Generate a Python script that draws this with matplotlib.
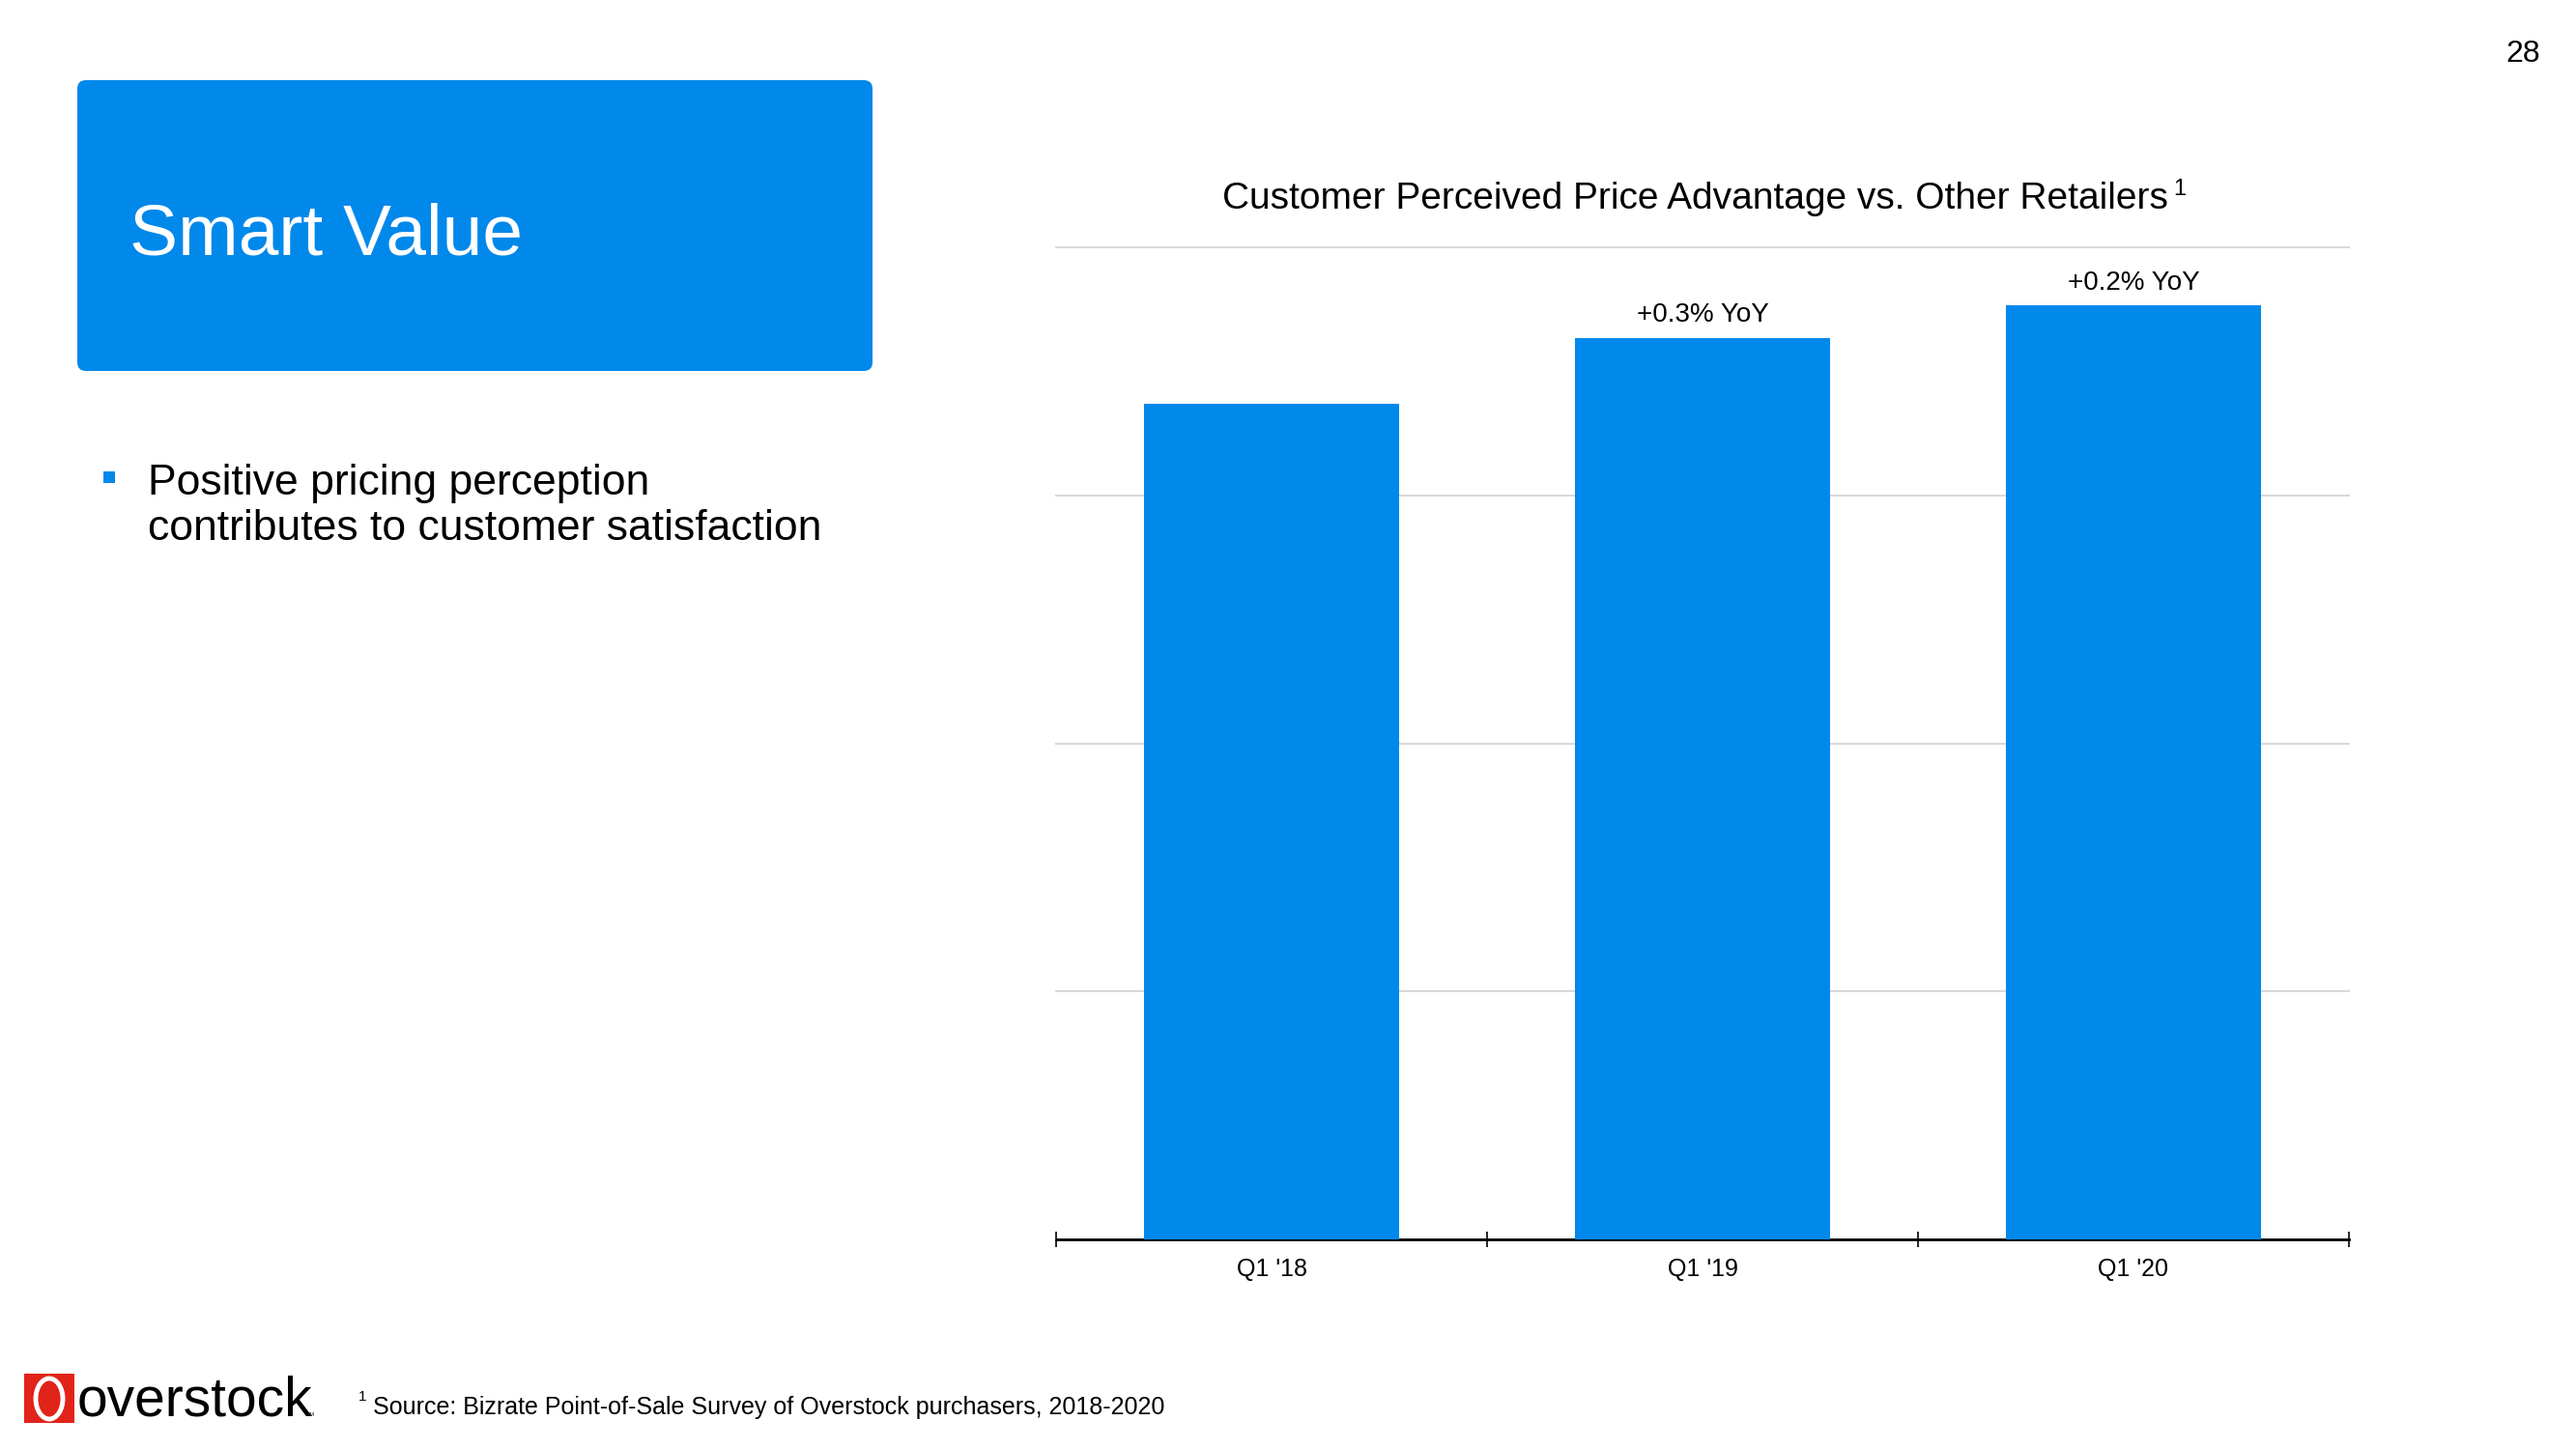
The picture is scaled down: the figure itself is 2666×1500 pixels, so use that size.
import matplotlib
matplotlib.use('Agg')
import matplotlib.pyplot as plt
from matplotlib.patches import FancyBboxPatch, Rectangle, Ellipse

# chart data (arbitrary units, axis has no labels)
categories = ["Q1 '18", "Q1 '19", "Q1 '20"]
advantage = [67.4, 72.7, 75.3]
yoy_labels = ["", "+0.3% YoY", "+0.2% YoY"]
grid_ticks = [0, 20, 40, 60, 80]

BLUE = '#0088EB'
RED = '#E2231A'
W, H = 2666, 1500

plt.rcParams['font.family'] = ['Liberation Sans', 'DejaVu Sans']

fig = plt.figure(figsize=(W / 100, H / 100), dpi=100)

# background axes in pixel units (y downwards) for the slide decorations
bg = fig.add_axes([0, 0, 1, 1])
bg.set_xlim(0, W)
bg.set_ylim(H, 0)
bg.axis('off')

# section header box
bg.add_patch(FancyBboxPatch((80, 83), 823, 301,
                            boxstyle='round,pad=0,rounding_size=9',
                            facecolor=BLUE, edgecolor='none'))
bg.text(134, 264, 'Smart Value', color='white', fontsize=54,
        va='baseline', ha='left')

# bullet
bg.add_patch(Rectangle((107, 488), 12, 12, facecolor=BLUE, edgecolor='none'))
bg.text(153, 512, 'Positive pricing perception', fontsize=32, va='baseline')
bg.text(153, 559, 'contributes to customer satisfaction', fontsize=32, va='baseline')

# page number
bg.text(2629, 56, '28', fontsize=23, ha='right', va='center')

# footnote
bg.text(371, 1450, '1', fontsize=11, va='baseline')
bg.text(386, 1464, 'Source: Bizrate Point-of-Sale Survey of Overstock purchasers, 2018-2020',
        fontsize=18, va='baseline')

# logo
bg.add_patch(Rectangle((25, 1422), 52, 51, facecolor=RED, edgecolor='none'))
bg.add_patch(Ellipse((51, 1448), 28, 42, facecolor='none', edgecolor='white', lw=3.5))
bg.text(80, 1466, 'overstock', fontsize=41, va='baseline', color='black')
bg.text(318, 1466, 'TM', fontsize=4, va='baseline', color='black')

# chart title with superscript
title = bg.text(1265, 216, 'Customer Perceived Price Advantage vs. Other Retailers',
                fontsize=28, va='baseline', ha='left')
fig.canvas.draw()
bb = title.get_window_extent(fig.canvas.get_renderer())
bg.text(bb.x1 + 5, 202, '1', fontsize=17, va='baseline')

# the bar chart
ax = fig.add_axes([1093 / W, 1 - 1283 / H, 1338 / W, 1027 / H])
x = list(range(len(categories)))
bars = ax.bar(x, advantage, width=0.59, color=BLUE, zorder=3)

for xi, v, lab in zip(x, advantage, yoy_labels):
    if lab:
        ax.annotate(lab, (xi, v), xytext=(0, 12), textcoords='offset points',
                    ha='center', va='baseline', fontsize=20)

ax.set_xlim(-0.5, len(categories) - 0.5)
ax.set_ylim(grid_ticks[0], grid_ticks[-1])
ax.set_yticks(grid_ticks)
ax.yaxis.grid(True, color='#D9D9D9', lw=1.5)
for gl in ax.get_ygridlines():
    gl.set_clip_on(False)
ax.tick_params(axis='y', length=0, labelleft=False)

ax.set_xticks([i - 0.5 for i in range(len(categories) + 1)])
ax.set_xticklabels([])
ax.set_xticks(x, minor=True)
ax.set_xticklabels(categories, minor=True, fontsize=18)
ax.tick_params(axis='x', which='major', direction='inout', length=11, width=1.2)
ax.tick_params(axis='x', which='minor', length=0, pad=14)

for s in ['top', 'left', 'right']:
    ax.spines[s].set_visible(False)
ax.spines['bottom'].set_linewidth(2)
ax.spines['bottom'].set_color('black')
ax.set_facecolor('none')

fig.savefig('out.png', dpi=100)
